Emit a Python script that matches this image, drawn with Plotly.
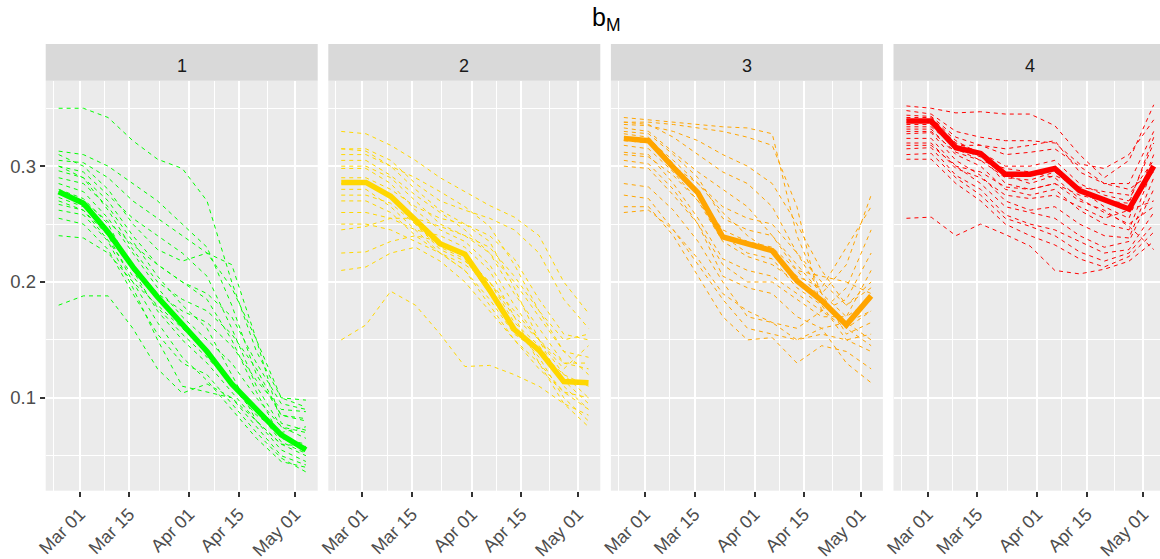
import pandas as pd
import plotly.graph_objects as go

# ---------------- data ----------------
dates = ["2020-02-24", "2020-03-02", "2020-03-09", "2020-03-16", "2020-03-23", "2020-03-30",
         "2020-04-06", "2020-04-13", "2020-04-20", "2020-04-27", "2020-05-04"]
panel_labels = ["1", "2", "3", "4"]
panel_colors = ["#00FF00", "#FFD700", "#FFA500", "#FF0000"]

mean_1 = [0.278, 0.268, 0.243, 0.213, 0.187, 0.163, 0.140, 0.112, 0.090, 0.068, 0.055]
mean_2 = [0.286, 0.286, 0.274, 0.254, 0.233, 0.224, 0.193, 0.159, 0.141, 0.114, 0.113]
mean_3 = [0.324, 0.322, 0.299, 0.277, 0.239, 0.233, 0.227, 0.201, 0.184, 0.163, 0.188]
mean_4 = [0.339, 0.339, 0.316, 0.311, 0.293, 0.293, 0.298, 0.279, 0.271, 0.263, 0.300]

runs_1 = [
    [0.350, 0.350, 0.342, 0.322, 0.306, 0.298, 0.270, 0.200, 0.140, 0.100, 0.098],
    [0.313, 0.310, 0.300, 0.285, 0.270, 0.250, 0.230, 0.180, 0.120, 0.085, 0.080],
    [0.305, 0.303, 0.290, 0.270, 0.255, 0.240, 0.225, 0.195, 0.150, 0.100, 0.092],
    [0.300, 0.295, 0.275, 0.255, 0.240, 0.225, 0.205, 0.160, 0.110, 0.075, 0.070],
    [0.296, 0.290, 0.270, 0.240, 0.215, 0.200, 0.185, 0.150, 0.105, 0.065, 0.060],
    [0.290, 0.285, 0.265, 0.235, 0.205, 0.180, 0.160, 0.120, 0.080, 0.055, 0.045],
    [0.285, 0.278, 0.255, 0.225, 0.195, 0.170, 0.150, 0.130, 0.100, 0.075, 0.065],
    [0.280, 0.272, 0.250, 0.210, 0.175, 0.150, 0.130, 0.105, 0.080, 0.060, 0.050],
    [0.273, 0.265, 0.245, 0.215, 0.190, 0.175, 0.165, 0.145, 0.115, 0.090, 0.088],
    [0.267, 0.262, 0.240, 0.200, 0.165, 0.135, 0.115, 0.090, 0.065, 0.045, 0.040],
    [0.262, 0.258, 0.235, 0.195, 0.150, 0.110, 0.105, 0.100, 0.075, 0.050, 0.042],
    [0.255, 0.250, 0.228, 0.190, 0.155, 0.130, 0.120, 0.095, 0.070, 0.048, 0.036],
    [0.240, 0.238, 0.225, 0.200, 0.180, 0.160, 0.140, 0.110, 0.085, 0.070, 0.075],
    [0.180, 0.188, 0.188, 0.160, 0.125, 0.104, 0.112, 0.100, 0.080, 0.060, 0.058],
    [0.278, 0.270, 0.252, 0.232, 0.215, 0.200, 0.190, 0.170, 0.130, 0.095, 0.090],
    [0.300, 0.290, 0.262, 0.228, 0.200, 0.185, 0.175, 0.155, 0.125, 0.085, 0.082],
    [0.310, 0.300, 0.280, 0.250, 0.228, 0.218, 0.225, 0.215, 0.150, 0.078, 0.072],
    [0.270, 0.262, 0.236, 0.205, 0.178, 0.155, 0.135, 0.112, 0.090, 0.062, 0.052],
]

runs_2 = [
    [0.330, 0.328, 0.318, 0.305, 0.290, 0.278, 0.266, 0.256, 0.240, 0.200, 0.173],
    [0.315, 0.315, 0.305, 0.285, 0.270, 0.262, 0.255, 0.245, 0.225, 0.185, 0.160],
    [0.310, 0.310, 0.300, 0.290, 0.278, 0.265, 0.248, 0.215, 0.175, 0.140, 0.135],
    [0.305, 0.305, 0.292, 0.275, 0.260, 0.245, 0.225, 0.190, 0.160, 0.130, 0.125],
    [0.298, 0.298, 0.285, 0.262, 0.245, 0.235, 0.215, 0.180, 0.150, 0.120, 0.100],
    [0.290, 0.290, 0.280, 0.265, 0.255, 0.250, 0.235, 0.195, 0.150, 0.110, 0.090],
    [0.275, 0.275, 0.268, 0.250, 0.230, 0.220, 0.190, 0.160, 0.135, 0.100, 0.080],
    [0.270, 0.270, 0.260, 0.240, 0.225, 0.215, 0.200, 0.175, 0.150, 0.125, 0.145],
    [0.260, 0.260, 0.255, 0.245, 0.240, 0.230, 0.210, 0.170, 0.130, 0.095, 0.075],
    [0.250, 0.250, 0.245, 0.235, 0.225, 0.210, 0.185, 0.155, 0.140, 0.120, 0.110],
    [0.245, 0.248, 0.255, 0.255, 0.248, 0.240, 0.225, 0.200, 0.170, 0.140, 0.120],
    [0.225, 0.226, 0.235, 0.240, 0.235, 0.222, 0.200, 0.165, 0.145, 0.115, 0.095],
    [0.210, 0.213, 0.225, 0.230, 0.218, 0.200, 0.175, 0.150, 0.130, 0.105, 0.100],
    [0.150, 0.163, 0.192, 0.180, 0.155, 0.127, 0.128, 0.120, 0.110, 0.095, 0.085],
    [0.285, 0.285, 0.272, 0.250, 0.228, 0.218, 0.200, 0.170, 0.150, 0.130, 0.130],
    [0.300, 0.300, 0.290, 0.270, 0.250, 0.240, 0.230, 0.205, 0.175, 0.150, 0.155],
    [0.280, 0.280, 0.265, 0.245, 0.225, 0.210, 0.180, 0.150, 0.125, 0.105, 0.090],
    [0.315, 0.313, 0.300, 0.280, 0.262, 0.250, 0.240, 0.220, 0.185, 0.155, 0.150],
]

runs_3 = [
    [0.342, 0.340, 0.338, 0.336, 0.334, 0.333, 0.328, 0.240, 0.190, 0.215, 0.275],
    [0.338, 0.338, 0.336, 0.333, 0.330, 0.325, 0.318, 0.265, 0.175, 0.160, 0.175],
    [0.336, 0.335, 0.330, 0.322, 0.310, 0.300, 0.285, 0.250, 0.210, 0.180, 0.200],
    [0.333, 0.330, 0.312, 0.295, 0.280, 0.265, 0.240, 0.210, 0.185, 0.165, 0.150],
    [0.325, 0.323, 0.305, 0.285, 0.260, 0.240, 0.225, 0.205, 0.195, 0.230, 0.265],
    [0.318, 0.315, 0.295, 0.270, 0.240, 0.225, 0.220, 0.195, 0.180, 0.150, 0.140],
    [0.312, 0.310, 0.285, 0.255, 0.220, 0.210, 0.205, 0.190, 0.175, 0.195, 0.245],
    [0.305, 0.302, 0.280, 0.250, 0.205, 0.195, 0.190, 0.170, 0.160, 0.130, 0.113],
    [0.300, 0.298, 0.275, 0.250, 0.215, 0.200, 0.200, 0.185, 0.170, 0.170, 0.210],
    [0.285, 0.282, 0.262, 0.235, 0.200, 0.170, 0.165, 0.150, 0.155, 0.150, 0.155],
    [0.275, 0.272, 0.245, 0.215, 0.185, 0.160, 0.155, 0.150, 0.160, 0.165, 0.175],
    [0.265, 0.265, 0.240, 0.205, 0.170, 0.150, 0.152, 0.130, 0.145, 0.140, 0.125],
    [0.260, 0.262, 0.245, 0.220, 0.190, 0.175, 0.165, 0.160, 0.175, 0.185, 0.225],
    [0.330, 0.328, 0.310, 0.290, 0.255, 0.245, 0.240, 0.215, 0.190, 0.170, 0.185],
    [0.322, 0.320, 0.300, 0.285, 0.265, 0.255, 0.250, 0.225, 0.200, 0.180, 0.195],
    [0.338, 0.336, 0.325, 0.310, 0.295, 0.285, 0.265, 0.225, 0.190, 0.155, 0.165],
    [0.310, 0.308, 0.292, 0.270, 0.235, 0.222, 0.215, 0.200, 0.185, 0.160, 0.145],
    [0.328, 0.325, 0.302, 0.275, 0.245, 0.235, 0.230, 0.210, 0.205, 0.200, 0.190],
]

runs_4 = [
    [0.352, 0.350, 0.346, 0.347, 0.345, 0.345, 0.335, 0.310, 0.290, 0.305, 0.353],
    [0.348, 0.345, 0.330, 0.325, 0.322, 0.322, 0.320, 0.302, 0.298, 0.310, 0.340],
    [0.344, 0.343, 0.325, 0.318, 0.315, 0.318, 0.322, 0.295, 0.285, 0.285, 0.330],
    [0.340, 0.340, 0.320, 0.312, 0.300, 0.300, 0.305, 0.285, 0.275, 0.270, 0.320],
    [0.336, 0.336, 0.315, 0.305, 0.290, 0.288, 0.295, 0.280, 0.265, 0.255, 0.310],
    [0.332, 0.332, 0.310, 0.300, 0.280, 0.275, 0.280, 0.262, 0.250, 0.245, 0.300],
    [0.328, 0.329, 0.305, 0.292, 0.270, 0.262, 0.265, 0.250, 0.240, 0.238, 0.290],
    [0.324, 0.324, 0.300, 0.285, 0.265, 0.260, 0.255, 0.240, 0.230, 0.235, 0.280],
    [0.320, 0.320, 0.298, 0.290, 0.275, 0.272, 0.275, 0.265, 0.255, 0.262, 0.270],
    [0.315, 0.316, 0.292, 0.280, 0.258, 0.250, 0.245, 0.235, 0.225, 0.228, 0.260],
    [0.310, 0.311, 0.290, 0.275, 0.255, 0.248, 0.240, 0.226, 0.218, 0.225, 0.250],
    [0.306, 0.306, 0.285, 0.270, 0.250, 0.240, 0.232, 0.220, 0.213, 0.222, 0.243],
    [0.255, 0.256, 0.240, 0.250, 0.241, 0.231, 0.210, 0.207, 0.211, 0.218, 0.235],
    [0.338, 0.338, 0.318, 0.318, 0.310, 0.312, 0.315, 0.300, 0.285, 0.280, 0.295],
    [0.330, 0.330, 0.312, 0.305, 0.298, 0.295, 0.290, 0.272, 0.260, 0.250, 0.265],
    [0.342, 0.342, 0.322, 0.310, 0.285, 0.280, 0.285, 0.275, 0.270, 0.268, 0.325],
    [0.318, 0.318, 0.300, 0.295, 0.282, 0.280, 0.285, 0.270, 0.262, 0.248, 0.228],
    [0.334, 0.334, 0.316, 0.308, 0.292, 0.285, 0.292, 0.282, 0.278, 0.275, 0.305],
]

x_tickvals = ["2020-03-01", "2020-03-15", "2020-04-01", "2020-04-15", "2020-05-01"]
x_ticktext = ["Mar 01", "Mar 15", "Apr 01", "Apr 15", "May 01"]
x_minor = ["2020-02-22 12:00", "2020-03-08", "2020-03-23 12:00", "2020-04-08", "2020-04-23"]
y_tickvals = [0.1, 0.2, 0.3]
y_ticktext = ["0.1", "0.2", "0.3"]
y_minor = [0.05, 0.15, 0.25, 0.35]

# ---------------- layout geometry (pixels) ----------------
W, H = 1160, 559
panel_left = [45.7, 328.3, 610.9, 893.5]
panel_w = 272.0
panel_top, panel_bottom = 80.7, 490.7
strip_top = 44.0
x_start = pd.Timestamp("2020-02-20 08:00")
x_end = pd.Timestamp("2020-05-07 08:00")
y_range = [0.0198, 0.3738]

FONT = "Liberation Sans, Arial, sans-serif"

def px_x(p):
    return p / W

def px_y(p):
    return 1 - p / H

fig = go.Figure()
all_means = [mean_1, mean_2, mean_3, mean_4]
all_runs = [runs_1, runs_2, runs_3, runs_4]

for i in range(4):
    sfx = "" if i == 0 else str(i + 1)
    for run in all_runs[i]:
        fig.add_trace(go.Scatter(
            x=dates, y=run, mode="lines", xaxis="x" + sfx, yaxis="y" + sfx,
            line=dict(color=panel_colors[i], width=1, dash="4px,4px"),
            showlegend=False, hoverinfo="skip"))
    fig.add_trace(go.Scatter(
        x=dates, y=all_means[i], mode="lines", xaxis="x" + sfx, yaxis="y" + sfx,
        line=dict(color=panel_colors[i], width=5.5),
        showlegend=False))

layout = dict(
    width=W, height=H,
    margin=dict(l=0, r=0, t=0, b=0),
    paper_bgcolor="white", plot_bgcolor="#EBEBEB",
    font=dict(family=FONT, color="#4D4D4D", size=18),
    showlegend=False,
)

shapes = []
annotations = []
for i in range(4):
    sfx = "" if i == 0 else str(i + 1)
    left = panel_left[i]
    right = min(left + panel_w, W)
    frac = (right - left) / panel_w
    xr_end = x_start + (x_end - x_start) * frac
    layout["xaxis" + sfx] = dict(
        domain=[px_x(left), px_x(right)],
        anchor="y" + sfx,
        type="date",
        range=[x_start.strftime("%Y-%m-%d %H:%M"), xr_end.strftime("%Y-%m-%d %H:%M")],
        tickmode="array", tickvals=x_tickvals, ticktext=x_ticktext,
        tickangle=-45,
        ticks="outside", ticklen=5, tickwidth=1.5, tickcolor="#333333",
        tickfont=dict(size=18, color="#4D4D4D", family=FONT),
        showgrid=True, gridcolor="white", gridwidth=1.6,
        minor=dict(tickmode="array", tickvals=x_minor, showgrid=True,
                   gridcolor="white", gridwidth=0.8, ticks=""),
        zeroline=False, showline=False, automargin=False, fixedrange=True,
    )
    ydict = dict(
        domain=[px_y(panel_bottom), px_y(panel_top)],
        anchor="x" + sfx,
        range=y_range,
        tickmode="array", tickvals=y_tickvals, ticktext=y_ticktext,
        showgrid=True, gridcolor="white", gridwidth=1.6,
        minor=dict(tickmode="array", tickvals=y_minor, showgrid=True,
                   gridcolor="white", gridwidth=0.8, ticks=""),
        zeroline=False, showline=False, automargin=False, fixedrange=True,
    )
    if i == 0:
        ydict.update(ticks="outside", ticklen=5, tickwidth=1.5, tickcolor="#333333",
                     tickfont=dict(size=18.5, color="#4D4D4D", family=FONT),
                     showticklabels=True)
    else:
        ydict.update(ticks="", showticklabels=False, matches="y")
    layout["yaxis" + sfx] = ydict

    shapes.append(dict(type="rect", xref="paper", yref="paper",
                       x0=px_x(left), x1=px_x(right),
                       y0=px_y(panel_top), y1=px_y(strip_top),
                       fillcolor="#D9D9D9", line=dict(width=0), layer="below"))
    annotations.append(dict(
        text=panel_labels[i], xref="paper", yref="paper",
        x=px_x(left + panel_w / 2), y=px_y(65.5),
        xanchor="center", yanchor="middle", showarrow=False,
        font=dict(size=18, color="#1A1A1A", family=FONT)))

annotations.append(dict(
    text="b<sub>M</sub>", xref="paper", yref="paper",
    x=px_x((panel_left[0] + panel_left[3] + panel_w) / 2), y=px_y(19),
    xanchor="center", yanchor="middle", showarrow=False,
    font=dict(size=25, color="#000000", family=FONT)))

layout["shapes"] = shapes
layout["annotations"] = annotations
fig.update_layout(**layout)

fig.write_html("out.html", config={"displayModeBar": False},
               post_script="document.body.style.margin='0px';document.body.style.padding='0px';")
